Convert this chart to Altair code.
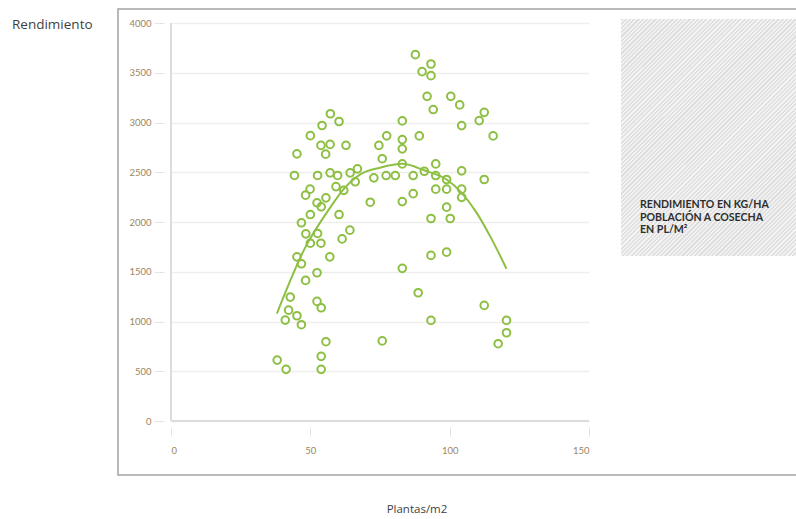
import altair as alt
import pandas as pd

# Plant population at harvest (plants/m2) and yield (kg/ha) for each plot
plants = [
    38.1, 41.3, 41.0, 42.2, 42.8, 45.2, 46.8, 48.3, 52.4, 52.4,
    53.9, 55.6, 53.9, 53.9, 45.2, 46.8, 57.0, 50.0, 53.8, 61.4,
    64.2, 48.4, 52.6, 46.8, 50.0, 60.3, 53.9, 52.4, 55.6, 48.3,
    49.9, 59.2, 62.0, 66.1, 44.3, 52.6, 57.1, 59.8, 64.3, 66.9,
    45.2, 50.0, 54.2, 57.2, 60.3, 53.8, 57.1, 55.5, 62.8,
    71.5, 72.8, 74.6, 75.8, 77.4, 77.2, 80.5, 75.8, 83.0, 83.0,
    83.0, 83.0, 83.0, 83.0,
    87.7, 93.3, 90.1, 93.3, 91.9, 100.4, 103.6, 94.1, 112.4, 110.6,
    104.3, 115.6, 89.1, 95.0, 86.9, 90.9, 95.0, 104.3, 98.9, 112.4,
    86.9, 95.0, 98.9, 104.3, 104.3, 98.9, 93.3, 100.2, 93.3, 98.9,
    88.7, 112.4, 93.3, 120.4, 120.4, 117.4,
]
yields = [
    612, 519, 1014, 1114, 1245, 1058, 968, 1413, 1490, 1202,
    1138, 797, 650, 519, 1650, 1580, 1650, 1787, 1787, 1830,
    1918, 1881, 1885, 1992, 2075, 2075, 2153, 2193, 2243, 2270,
    2330, 2356, 2318, 2404, 2468, 2468, 2494, 2468, 2494, 2534,
    2685, 2868, 2970, 3088, 3010, 2770, 2780, 2682, 2771,
    2199, 2444, 2770, 2636, 2866, 2467, 2467, 805, 3016, 2828,
    2735, 2584, 2205, 1534,
    3682, 3588, 3511, 3471, 3263, 3263, 3177, 3130, 3102, 3019,
    2969, 2865, 2865, 2584, 2467, 2510, 2467, 2514, 2427, 2427,
    2285, 2330, 2330, 2330, 2248, 2149, 2035, 2035, 1664, 1697,
    1289, 1162, 1011, 1011, 887, 777,
]

# Fitted trend line
trend_plants = [38.0, 48.1, 57.0, 61.8, 67.8, 75.0, 83.0, 91.1, 98.9, 104.3, 109.7, 114.5, 120.4]
trend_yield = [1080, 1740, 2140, 2326, 2477, 2545, 2585, 2517, 2427, 2293, 2092, 1858, 1530]

x_ticks = [0, 50, 100, 150]
y_ticks = [0, 500, 1000, 1500, 2000, 2500, 3000, 3500, 4000]

y_label = "Rendimiento"
x_label = "Plantas/m2"
note_lines = ["RENDIMIENTO EN KG/HA", "POBLACIÓN A COSECHA", "EN PL/M²"]

points_df = pd.DataFrame({"plantas": plants, "rendimiento": yields})
trend_df = pd.DataFrame({"plantas": trend_plants, "rendimiento": trend_yield})
one_row = pd.DataFrame({"k": [0]})

GREEN = "#8dbf43"
TICK_TEXT = "#9b8563"

x_scale = alt.Scale(domain=[x_ticks[0], x_ticks[-1]], nice=False, zero=False)
y_scale = alt.Scale(domain=[y_ticks[0], y_ticks[-1]], nice=False)

x_axis = alt.Axis(
    values=x_ticks, title="", grid=False, domain=False, format="d",
    ticks=True, tickSize=9, tickColor="#e4e4e4", tickWidth=1, offset=6,
    labelPadding=9, labelFont="Lato", labelFontSize=9.5, labelColor=TICK_TEXT,
)
y_axis = alt.Axis(
    values=y_ticks, title="", grid=True, gridColor="#eeeeee", gridWidth=1.5,
    domain=False, ticks=True, tickSize=10, tickColor="#e4e4e4", tickWidth=1,
    offset=7, labelPadding=3, labelFont="Lato", labelFontSize=9.5,
    labelColor=TICK_TEXT, format="d",
)

# Frame around the chart image
frame = alt.Chart(one_row).mark_rect(
    fill="transparent", stroke="#a3a3a3", strokeWidth=1.5
).encode(x=alt.value(-53), x2=alt.value(640), y=alt.value(-14), y2=alt.value(452))

# Hatched note panel: diagonal stripes built from a striped gradient
stripe_count = 116
stripe_dark, stripe_light = "#dfdfdf", "#f3f3f3"
hatch_stops = []
for i in range(stripe_count):
    a = round(i / stripe_count, 6)
    b = round((i + 0.5) / stripe_count, 6)
    c = round(min((i + 1) / stripe_count, 1.0), 6)
    hatch_stops += [
        alt.GradientStop(offset=a, color=stripe_dark),
        alt.GradientStop(offset=b, color=stripe_dark),
        alt.GradientStop(offset=b, color=stripe_light),
        alt.GradientStop(offset=c, color=stripe_light),
    ]
hatch = alt.Chart(one_row).mark_rect(
    fill=alt.LinearGradient(gradient="linear", x1=0, y1=0, x2=1, y2=1.317, stops=hatch_stops)
).encode(x=alt.value(450), x2=alt.value(630), y=alt.value(-4), y2=alt.value(233))

note = alt.Chart(one_row).mark_text(
    align="left", baseline="alphabetic", font="Lato", fontSize=10.6, fontWeight="bold",
    lineHeight=12.5, color="#2e2e2e",
).encode(x=alt.value(469), y=alt.value(185), text=alt.value(note_lines))

y_title = alt.Chart(one_row).mark_text(
    align="left", baseline="alphabetic", font="Open Sans", fontSize=13.5, color="#3f3f3f"
).encode(x=alt.value(-159), y=alt.value(6), text=alt.value(y_label))

x_title = alt.Chart(one_row).mark_text(
    align="center", baseline="alphabetic", font="Open Sans", fontSize=11.5, color="#3f3f3f"
).encode(x=alt.value(246), y=alt.value(490), text=alt.value(x_label))

# Axis lines along x = 0 and y = 0
y_line = alt.Chart(one_row).mark_rule(color="#dcdcdc", strokeWidth=2).encode(
    x=alt.datum(x_ticks[0], scale=x_scale, axis=x_axis),
    y=alt.datum(y_ticks[0], scale=y_scale, axis=y_axis),
    y2=alt.datum(y_ticks[-1]),
)
x_line = alt.Chart(one_row).mark_rule(color="#dcdcdc", strokeWidth=2).encode(
    x=alt.datum(x_ticks[0]), x2=alt.datum(x_ticks[-1]), y=alt.datum(y_ticks[0]),
)

trend = alt.Chart(trend_df).mark_line(
    color=GREEN, strokeWidth=2, interpolate="monotone"
).encode(x="plantas:Q", y="rendimiento:Q")

points = alt.Chart(points_df).mark_point(
    shape="circle", filled=False, color=GREEN, strokeWidth=2, size=58, opacity=1
).encode(x="plantas:Q", y="rendimiento:Q")

chart = alt.layer(
    frame, hatch, note, y_title, x_title, y_line, x_line, trend, points
).properties(
    width=418, height=398,
    autosize=alt.AutoSizeParams(type="none"),
    padding={"left": 171, "top": 23, "right": 207, "bottom": 98},
    background="#ffffff",
).configure_view(strokeWidth=0)

chart.save("out.html", embed_options={"renderer": "svg", "actions": False})
